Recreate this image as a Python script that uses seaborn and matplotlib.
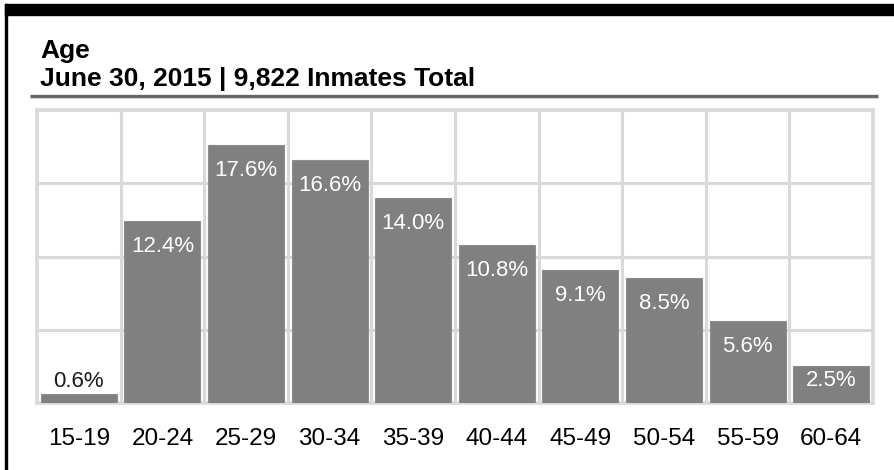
import matplotlib
matplotlib.use("Agg")
import matplotlib.pyplot as plt
import seaborn as sns
import pandas as pd
from matplotlib.lines import Line2D
from matplotlib.patches import Rectangle

ages = ['15-19', '20-24', '25-29', '30-34', '35-39', '40-44', '45-49', '50-54', '55-59', '60-64']
pct = [0.6, 12.4, 17.6, 16.6, 14.0, 10.8, 9.1, 8.5, 5.6, 2.5]
y_ticks = [0, 5, 10, 15, 20]
title = "Age"
subtitle = "June 30, 2015 | 9,822 Inmates Total"

df = pd.DataFrame({"age": ages, "pct": pct})

sns.set_theme(style="white")
plt.rcParams['font.family'] = ['Liberation Sans', 'DejaVu Sans']

W, H = 895, 470
fig = plt.figure(figsize=(W / 100, H / 100), dpi=100)

def fx(px):
    return px / W

def fy(py):
    return 1 - py / H

# frame: thick top band and left line
fig.patches.append(Rectangle((fx(5), fy(15)), 1 - fx(5), fy(4) - fy(15),
                             transform=fig.transFigure, color='black', zorder=0))
fig.patches.append(Rectangle((fx(5), 0), fx(2.2), fy(4),
                             transform=fig.transFigure, color='black', zorder=0))

# titles
fig.text(fx(40), fy(58), title, fontsize=19, fontweight='bold', va='baseline', ha='left', color='black')
fig.text(fx(40), fy(86), subtitle, fontsize=19, fontweight='bold', va='baseline', ha='left', color='black')
fig.add_artist(Line2D([fx(30), fx(878)], [fy(95.5), fy(95.5)], transform=fig.transFigure,
                      color='#666666', lw=2.4, solid_capstyle='butt'))
fig.add_artist(Line2D([fx(30), fx(878)], [fy(97.8), fy(97.8)], transform=fig.transFigure,
                      color='#d0d0d0', lw=0.8, solid_capstyle='butt'))

ax = fig.add_axes([fx(37), fy(403), fx(873) - fx(37), fy(110) - fy(403)])
sns.barplot(data=df, x="age", y="pct", ax=ax, color='#808080', saturation=1,
            width=0.91, edgecolor='#8e8e8e', linewidth=0.8, zorder=3)

ax.set_xlim(-0.5, len(ages) - 0.5)
ax.set_ylim(y_ticks[0], y_ticks[-1])
ax.set_yticks(y_ticks)
ax.set_yticklabels([])
ax.set_xticks(range(len(ages)))
ax.set_xticks([i + 0.5 for i in range(len(ages) - 1)], minor=True)
ax.grid(False)
ax.yaxis.grid(True, color='#d9d9d9', lw=2.2, zorder=0)
ax.xaxis.grid(True, which='minor', color='#d9d9d9', lw=2.2, zorder=0)
ax.set_axisbelow(True)
for s in ax.spines.values():
    s.set_visible(True)
    s.set_color('#d9d9d9')
    s.set_linewidth(2.6)
ax.tick_params(axis='both', which='both', length=0)
ax.tick_params(axis='x', pad=18, labelsize=17.5, labelcolor='black')
ax.set_xlabel("")
ax.set_ylabel("")

fig.canvas.draw()
ppu = (ax.transData.transform((0, 1))[1] - ax.transData.transform((0, 0))[1])  # px per unit
for i, v in enumerate(pct):
    hpx = v * ppu
    if hpx < 30:
        ax.annotate(f"{v:.1f}%", xy=(i, v), xytext=(0, 13 * 0.72), textcoords='offset points',
                    ha='center', va='center', fontsize=16, color='#1a1a1a', zorder=5)
    else:
        off = min(25.5, hpx - 23)
        ax.annotate(f"{v:.1f}%", xy=(i, v), xytext=(0, -off * 0.72), textcoords='offset points',
                    ha='center', va='center', fontsize=16, color='white', zorder=5)

fig.savefig("out.png", dpi=100)
